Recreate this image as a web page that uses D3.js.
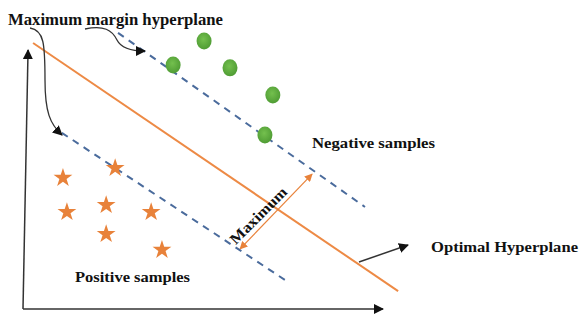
<!DOCTYPE html>
<html>
<head>
<meta charset="utf-8">
<script src="https://cdn.jsdelivr.net/npm/d3@7"></script>
<style>
  body { margin: 0; background: #fff; }
</style>
</head>
<body>
<div id="chart-area"></div>
<script>
/*
*    svm margin sketch
*/

// negative samples (green dots), in plot units
var negX = [5.03, 4.17, 5.75, 6.94, 6.72];
var negY = [10.35, 9.42, 9.31, 8.26, 6.72];

// positive samples (orange stars)
var posX = [1.11, 2.56, 1.22, 2.31, 3.56, 2.31, 3.86];
var posY = [5.10, 5.48, 3.78, 4.05, 3.78, 2.93, 2.32];

// hyperplanes: [x1, y1, x2, y2]
var optimalLine = [0.28, 10.27, 10.42, 0.69];
var upperMargin = [2.64, 10.66, 9.50, 3.94];
var lowerMargin = [1.08, 6.80, 7.28, 1.12];
var marginArrow = [6.03, 2.32, 8.03, 5.21];

var labels = ["Maximum margin hyperplane", "Negative samples", "Positive samples", "Optimal Hyperplane", "Maximum"];

var width = 580, height = 314;
var svg = d3.select("#chart-area").append("svg").attr("width", width).attr("height", height);

var x = d3.scaleLinear().domain([0, 10]).range([23, 383]);
var y = d3.scaleLinear().domain([0, 10]).range([309, 50]);

var defs = svg.append("defs");
function marker(id, color, size) {
	defs.append("marker")
		.attr("id", id)
		.attr("viewBox", "0 0 10 10")
		.attr("refX", 9).attr("refY", 5)
		.attr("markerWidth", size).attr("markerHeight", size)
		.attr("markerUnits", "userSpaceOnUse")
		.attr("orient", "auto-start-reverse")
		.append("path")
		.attr("d", "M0,0 L10,5 L0,10 z")
		.attr("fill", color);
}
marker("arrow", "#111", 10);
marker("arrowOrange", "#e8823a", 8);

var grad = defs.append("radialGradient").attr("id", "greenDot")
	.attr("cx", "45%").attr("cy", "40%").attr("r", "60%");
grad.append("stop").attr("offset", "0%").attr("stop-color", "#74c04e");
grad.append("stop").attr("offset", "100%").attr("stop-color", "#4f9c34");

var g = svg.append("g");

// axes (plain arrows, no ticks)
g.append("line")
	.attr("x1", x(0)).attr("y1", y(0))
	.attr("x2", x(0.14)).attr("y2", y(10))
	.attr("stroke", "#333").attr("stroke-width", 1.5)
	.attr("marker-end", "url(#arrow)");
g.append("line")
	.attr("x1", x(0)).attr("y1", y(0))
	.attr("x2", x(10)).attr("y2", y(0))
	.attr("stroke", "#333").attr("stroke-width", 1.5)
	.attr("marker-end", "url(#arrow)");

// margin hyperplanes
[upperMargin, lowerMargin].forEach(function(l) {
	g.append("line")
		.attr("x1", x(l[0])).attr("y1", y(l[1]))
		.attr("x2", x(l[2])).attr("y2", y(l[3]))
		.attr("stroke", "#4a6b9c").attr("stroke-width", 2)
		.attr("stroke-dasharray", "7,6");
});

// optimal hyperplane
g.append("line")
	.attr("x1", x(optimalLine[0])).attr("y1", y(optimalLine[1]))
	.attr("x2", x(optimalLine[2])).attr("y2", y(optimalLine[3]))
	.attr("stroke", "#ed8a45").attr("stroke-width", 2);

// margin double arrow
g.append("line")
	.attr("x1", x(marginArrow[0])).attr("y1", y(marginArrow[1]))
	.attr("x2", x(marginArrow[2])).attr("y2", y(marginArrow[3]))
	.attr("stroke", "#e8823a").attr("stroke-width", 1.2)
	.attr("marker-start", "url(#arrowOrange)")
	.attr("marker-end", "url(#arrowOrange)");

// negative samples
g.selectAll("ellipse.neg").data(d3.range(negX.length)).enter().append("ellipse")
	.attr("class", "neg")
	.attr("cx", i => x(negX[i]))
	.attr("cy", i => y(negY[i]))
	.attr("rx", 7.5).attr("ry", 8.5)
	.attr("fill", "url(#greenDot)");

// positive samples
var star = d3.symbol().type(d3.symbolStar).size(110);
g.selectAll("path.pos").data(d3.range(posX.length)).enter().append("path")
	.attr("class", "pos")
	.attr("d", star)
	.attr("transform", i => "translate(" + x(posX[i]) + "," + (y(posY[i]) + 1) + ")")
	.attr("fill", "#e8823a");

// curved pointers from the title
g.append("path")
	.attr("d", "M30,28 C44,30 45,44 45,80 C45,112 50,124 62,135")
	.attr("fill", "none").attr("stroke", "#333").attr("stroke-width", 1.3)
	.attr("marker-end", "url(#arrow)");
g.append("path")
	.attr("d", "M85,29 C104,25 112,30 117,40 C121,48 131,51 145,51")
	.attr("fill", "none").attr("stroke", "#333").attr("stroke-width", 1.3)
	.attr("marker-end", "url(#arrow)");

// pointer to optimal hyperplane
g.append("line")
	.attr("x1", 359).attr("y1", 262)
	.attr("x2", 408).attr("y2", 245)
	.attr("stroke", "#333").attr("stroke-width", 1.5)
	.attr("marker-end", "url(#arrow)");

// labels
function label(str, px, py, size, len) {
	return g.append("text")
		.attr("x", px).attr("y", py)
		.attr("font-family", "'Liberation Serif', 'DejaVu Serif', 'Times New Roman', serif")
		.attr("font-weight", "bold")
		.attr("font-size", size)
		.attr("fill", "#111")
		.attr("textLength", len)
		.attr("lengthAdjust", "spacingAndGlyphs")
		.text(str);
}
label(labels[0], 8, 25, "16.5px", 215);
label(labels[1], 312, 148, "15.5px", 123);
label(labels[2], 75, 282, "15.5px", 115);
label(labels[3], 431, 252, "15.5px", 147);
label(labels[4], 0, 0, "15px", 74)
	.attr("x", null).attr("y", null)
	.attr("text-anchor", "middle")
	.attr("transform", "translate(262,219) rotate(-45)");
</script>
</body>
</html>
